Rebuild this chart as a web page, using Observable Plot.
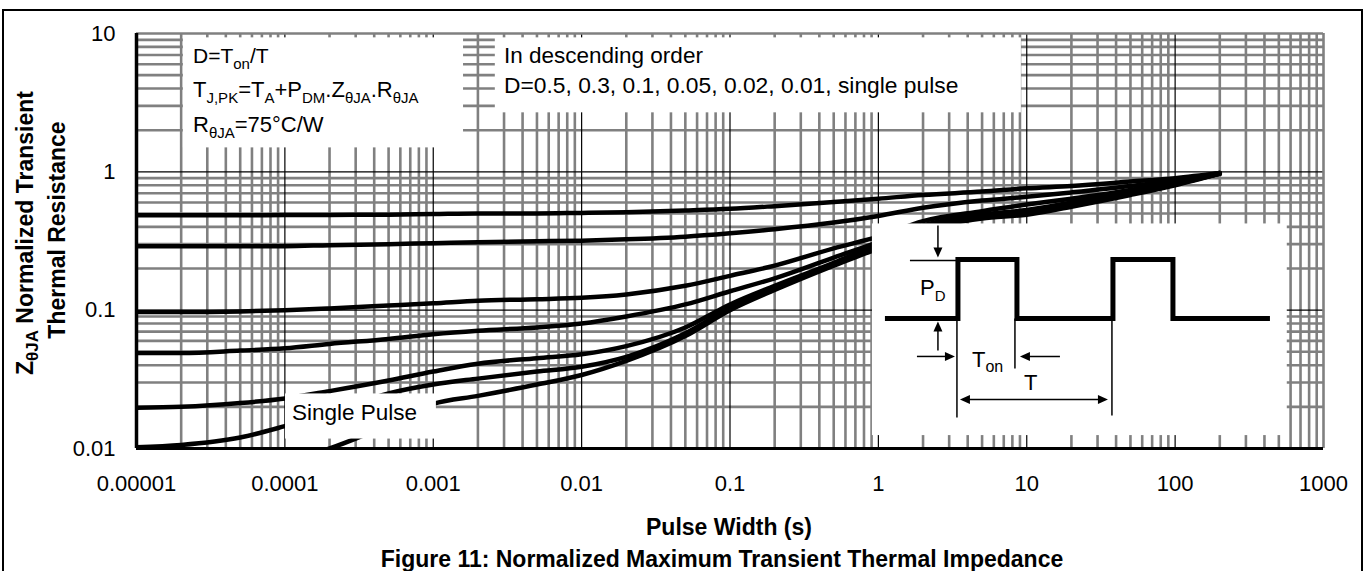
<!DOCTYPE html>
<html><head><meta charset="utf-8">
<script src="https://cdn.jsdelivr.net/npm/d3@7"></script>
<script src="https://cdn.jsdelivr.net/npm/@observablehq/plot@0.6"></script>
<style>
html,body{margin:0;padding:0;background:#fff;}
#chart{position:relative;width:1365px;height:571px;overflow:hidden;}
</style></head><body><div id="chart"></div>
<script>
// ---------- data ----------
const pulseWidth = [1e-5, 2e-5, 5e-5, 1e-4, 2e-4, 5e-4, 1e-3, 2e-3, 5e-3, 1e-2, 2e-2, 5e-2, 0.1, 0.2, 0.5, 1, 2, 5, 10, 20, 50, 100, 200];
const zD050 = [0.485, 0.485, 0.485, 0.487, 0.488, 0.49, 0.495, 0.50, 0.50, 0.505, 0.51, 0.525, 0.54, 0.565, 0.605, 0.64, 0.68, 0.72, 0.76, 0.79, 0.85, 0.90, 0.98];
const zD030 = [0.29, 0.29, 0.29, 0.29, 0.295, 0.30, 0.305, 0.31, 0.315, 0.318, 0.325, 0.34, 0.36, 0.385, 0.43, 0.48, 0.55, 0.62, 0.66, 0.71, 0.79, 0.87, 0.98];
const zD010 = [0.097, 0.097, 0.098, 0.10, 0.103, 0.108, 0.112, 0.117, 0.12, 0.123, 0.13, 0.15, 0.177, 0.21, 0.28, 0.34, 0.44, 0.52, 0.58, 0.64, 0.74, 0.85, 0.98];
const zD005 = [0.049, 0.049, 0.051, 0.053, 0.057, 0.062, 0.067, 0.071, 0.075, 0.08, 0.09, 0.11, 0.137, 0.17, 0.24, 0.31, 0.41, 0.49, 0.53, 0.60, 0.72, 0.83, 0.97];
const zD002 = [0.0197, 0.020, 0.0213, 0.023, 0.026, 0.031, 0.036, 0.041, 0.045, 0.048, 0.055, 0.075, 0.11, 0.15, 0.22, 0.30, 0.40, 0.48, 0.51, 0.58, 0.70, 0.82, 0.97];
const zD001 = [0.0102, 0.0106, 0.012, 0.0145, 0.018, 0.025, 0.029, 0.032, 0.036, 0.039, 0.046, 0.068, 0.104, 0.145, 0.215, 0.29, 0.39, 0.47, 0.50, 0.57, 0.69, 0.81, 0.97];
const singlePulseX = [1.9e-4, 3e-4, 5e-4, 1e-3, 2e-3, 5e-3, 1e-2, 2e-2, 5e-2, 0.1, 0.2, 0.5, 1, 2, 5, 10, 20, 50, 100, 200];
const singlePulseZ = [0.0098, 0.0118, 0.015, 0.021, 0.024, 0.029, 0.034, 0.043, 0.065, 0.10, 0.14, 0.21, 0.28, 0.38, 0.46, 0.49, 0.56, 0.68, 0.80, 0.97];

const xTicks = [1e-5, 1e-4, 1e-3, 1e-2, 1e-1, 1, 10, 100, 1000];
const xTickLabels = ["0.00001", "0.0001", "0.001", "0.01", "0.1", "1", "10", "100", "1000"];
const yTicks = [0.01, 0.1, 1, 10];
const yTickLabels = ["0.01", "0.1", "1", "10"];

const series = [
  {d: "0.5", x: pulseWidth, z: zD050},
  {d: "0.3", x: pulseWidth, z: zD030},
  {d: "0.1", x: pulseWidth, z: zD010},
  {d: "0.05", x: pulseWidth, z: zD005},
  {d: "0.02", x: pulseWidth, z: zD002},
  {d: "0.01", x: pulseWidth, z: zD001},
  {d: "single", x: singlePulseX, z: singlePulseZ}
];
const rows = series.flatMap(s => s.x.map((x, i) => ({x, z: s.z[i], d: s.d})));

// ---------- layout ----------
const W = 1365, H = 571;
const mL = 136, mR = 42, mT = 33, mB = 123;
const FONT = "'Liberation Sans', Arial, Helvetica, sans-serif";
const GRAY = "#808080";

const minorX = xTicks.slice(0, -1).flatMap(d => d3.range(2, 10).map(k => k * d));
const minorY = yTicks.slice(0, -1).flatMap(d => d3.range(2, 10).map(k => k * d));

// white annotation boxes (data coordinates)
const boxes = [
  {x1: 2.07e-5, x2: 1.6e-3, y1: 1.49, y2: 9.3},
  {x1: 2.62e-3, x2: 9.2, y1: 2.67, y2: 9.3},
  {x1: 1.01e-4, x2: 1.05e-3, y1: 0.0117, y2: 0.0248},
  {x1: 0.912, x2: 570, y1: 0.0124, y2: 0.42}
];

const sx = d3.scaleLog([1e-5, 1000], [mL, W - mR]);
const sy = d3.scaleLog([0.01, 10], [H - mB, mT]);

function rich(g, x, y, parts, size, opts = {}) {
  const t = g.append("text")
    .attr("x", x).attr("y", y)
    .attr("font-family", FONT).attr("font-size", size)
    .attr("font-weight", opts.weight || "normal")
    .attr("text-anchor", opts.anchor || "start")
    .attr("fill", "#000");
  if (opts.transform) t.attr("transform", opts.transform);
  const subSize = opts.subSize || Math.round(size * 0.68);
  const shift = opts.shift || Math.round(size * 0.28);
  let down = false;
  for (const p of parts) {
    const isSub = Array.isArray(p);
    const txt = isSub ? p[0] : p;
    const ts = t.append("tspan").text(txt).attr("font-size", isSub ? subSize : size);
    if (isSub && !down) { ts.attr("dy", shift); down = true; }
    else if (!isSub && down) { ts.attr("dy", -shift); down = false; }
  }
  return t;
}

function arrowHead(g, tipX, tipY, dir) {
  const L = 10, w = 4.5;
  let pts;
  if (dir === "down") pts = [[tipX, tipY], [tipX - w, tipY - L], [tipX + w, tipY - L]];
  if (dir === "up") pts = [[tipX, tipY], [tipX - w, tipY + L], [tipX + w, tipY + L]];
  if (dir === "right") pts = [[tipX, tipY], [tipX - L, tipY - w], [tipX - L, tipY + w]];
  if (dir === "left") pts = [[tipX, tipY], [tipX + L, tipY - w], [tipX + L, tipY + w]];
  g.append("path").attr("d", "M" + pts.map(p => p.join(",")).join("L") + "Z").attr("fill", "#000");
}

function annotations() {
  const g = d3.create("svg:g");
  // outer frame
  g.append("rect").attr("x", 3).attr("y", 10).attr("width", 1359).attr("height", 575)
    .attr("fill", "none").attr("stroke", "#000").attr("stroke-width", 2);

  // text box 1
  rich(g, 193, 63, ["D=T", ["on"]," /T"].map(p => p === " /T" ? "/T" : p), 21, {subSize: 15, shift: 6});
  rich(g, 193, 97, ["T", ["J,PK"], "=T", ["A"], "+P", ["DM"], ".Z", ["\u03B8JA"], ".R", ["\u03B8JA"]], 22, {subSize: 15, shift: 6});
  rich(g, 193, 132, ["R", ["\u03B8JA"], "=75\u00B0C/W"], 22, {subSize: 15, shift: 6});
  // text box 2
  rich(g, 504, 63, ["In descending order"], 22.5);
  rich(g, 504, 93, ["D=0.5, 0.3, 0.1, 0.05, 0.02, 0.01, single pulse"], 22.8);
  // single pulse label
  rich(g, 292, 420, ["Single Pulse"], 22.5);

  // y-axis title
  rich(g, 0, 0, ["Z", ["\u03B8JA"], " Normalized Transient"], 23,
       {weight: "bold", anchor: "middle", transform: "translate(33,233) rotate(-90)", subSize: 17, shift: 5});
  rich(g, 0, 0, ["Thermal Resistance"], 23,
       {weight: "bold", anchor: "middle", transform: "translate(65,230) rotate(-90)"});
  // x-axis title and caption
  rich(g, 729, 535, ["Pulse Width (s)"], 23, {weight: "bold", anchor: "middle"});
  rich(g, 722, 567, ["Figure 11: Normalized Maximum Transient Thermal Impedance"], 23, {weight: "bold", anchor: "middle"});

  // inset pulse diagram
  const ib = boxes[3];
  const ox = sx(ib.x1), oy = sy(ib.y2);
  const ins = g.append("g").attr("transform", `translate(${ox},${oy})`);
  const wave = [[13,95],[86,95],[86,36],[145,36],[145,95],[241,95],[241,36],[301,36],[301,95],[398,95]];
  ins.append("path").attr("d", d3.line()(wave)).attr("fill", "none").attr("stroke", "#000")
    .attr("stroke-width", 5).attr("stroke-linejoin", "miter");
  const thin = (x1, y1, x2, y2) => ins.append("line").attr("x1", x1).attr("y1", y1).attr("x2", x2).attr("y2", y2)
    .attr("stroke", "#000").attr("stroke-width", 1.5);
  thin(38, 37, 86, 37);
  thin(66, 2, 66, 26); arrowHead(ins, 66, 34, "down");
  thin(66, 127, 66, 106); arrowHead(ins, 66, 98, "up");
  thin(85, 95, 85, 194);
  thin(143, 95, 143, 145);
  thin(240, 95, 240, 192);
  thin(45, 133, 75, 133); arrowHead(ins, 83, 133, "right");
  thin(188, 133, 156, 133); arrowHead(ins, 148, 133, "left");
  thin(96, 176, 228, 176); arrowHead(ins, 88, 176, "left"); arrowHead(ins, 236, 176, "right");
  rich(ins, 48, 72, ["P", ["D"]], 22, {subSize: 15, shift: 6});
  rich(ins, 100, 144, ["T", ["on"]], 22, {subSize: 16, shift: 5});
  rich(ins, 152, 167, ["T"], 22);
  return g.node();
}

const chart = Plot.plot({
  width: W, height: H,
  marginLeft: mL, marginRight: mR, marginTop: mT, marginBottom: mB,
  style: {fontFamily: FONT, background: "#fff", color: "#000"},
  x: {type: "log", domain: [1e-5, 1000]},
  y: {type: "log", domain: [0.01, 10]},
  marks: [
    Plot.ruleX(minorX, {stroke: GRAY, strokeWidth: 2.6}),
    Plot.ruleY(minorY, {stroke: GRAY, strokeWidth: 2.6}),
    Plot.ruleX(xTicks.slice(1, -1), {stroke: "#000", strokeWidth: 1.2}),
    Plot.ruleY(yTicks.slice(1, -1), {stroke: "#000", strokeWidth: 1.2}),
    Plot.ruleX([1000], {stroke: GRAY, strokeWidth: 2.6}),
    Plot.ruleY([10], {stroke: GRAY, strokeWidth: 2.6}),
    Plot.line(rows, {x: "x", y: "z", z: "d", stroke: "#000", strokeWidth: 4.5, curve: "monotone-x", clip: true}),
    Plot.rect(boxes, {x1: "x1", x2: "x2", y1: "y1", y2: "y2", fill: "#fff"}),
    Plot.ruleX([1e-5], {stroke: "#000", strokeWidth: 3.5}),
    Plot.ruleY([0.01], {stroke: "#000", strokeWidth: 3}),
    Plot.axisX({ticks: xTicks, tickFormat: d => xTickLabels[xTicks.indexOf(d)], tickSize: 0, tickPadding: 27,
                fontSize: 22, label: null}),
    Plot.axisY({ticks: yTicks, tickFormat: d => yTickLabels[yTicks.indexOf(d)], tickSize: 0, tickPadding: 21,
                fontSize: 22, label: null}),
    annotations
  ]
});
document.getElementById("chart").appendChild(chart);
</script></body></html>
